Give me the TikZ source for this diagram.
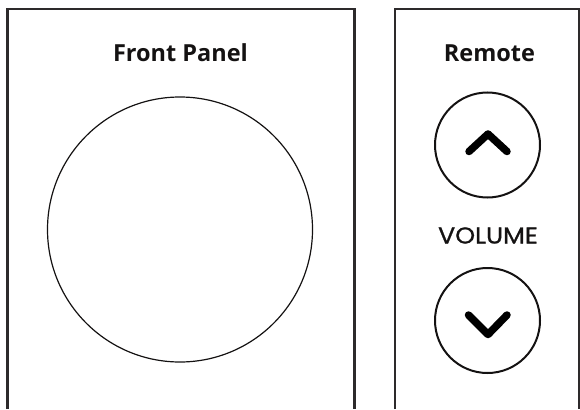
\documentclass[tikz,border=0pt]{standalone}
\usepackage{fontspec}
\setmainfont{Open Sans}
\newfontfamily\volfont{Poppins}[FakeBold=0.9,FakeStretch=1.1]
\usetikzlibrary{positioning}
\definecolor{frame}{RGB}{45,42,43}
\definecolor{ink}{RGB}{20,18,18}

\begin{document}
\begin{tikzpicture}[x=1pt,y=-1pt,
  panel/.style={draw=frame, line width=2.2pt},
  title/.style={font=\fontsize{23.5}{26}\selectfont\bfseries, text=ink, inner sep=0pt, anchor=base},
  knob/.style={circle, draw=ink, line width=1.2pt, inner sep=0pt, minimum size=265pt},
  btn/.style={circle, draw=ink, line width=2pt, inner sep=0pt, minimum size=105pt},
  chev/.style={draw=black, line width=7.5pt, line cap=round, line join=round},
]
\useasboundingbox (0,0) rectangle (580,409);

% panels, open at the bottom
\draw[panel] (7.5,409) -- (7.5,9) -- (354.5,9) -- (354.5,409);
\draw[panel] (395,409) -- (395,9) -- (579,9) -- (579,409);

\node[title] (front) at (180.5,62) {Front Panel};
\node[title] (remote) at (489.5,62) {Remote};

\node[knob] (dial) at (180,229.5) {};

\node[btn] (up) at (487.5,145) {};
\node[font=\volfont\fontsize{23}{25}\selectfont, text=ink, inner sep=0pt, anchor=base]
  (vol) at (488,243.5) {VOLUME};
\node[btn] (down) at (487.5,320.5) {};

\draw[chev] ([shift={(-18.5,6.5)}]up.center) -- ([shift={(0.5,-11)}]up.center)
  -- ([shift={(19.5,6.5)}]up.center);
\draw[chev] ([shift={(-19,-5.5)}]down.center) -- ([shift={(0.5,14)}]down.center)
  -- ([shift={(19.5,-5.5)}]down.center);
\end{tikzpicture}
\end{document}
